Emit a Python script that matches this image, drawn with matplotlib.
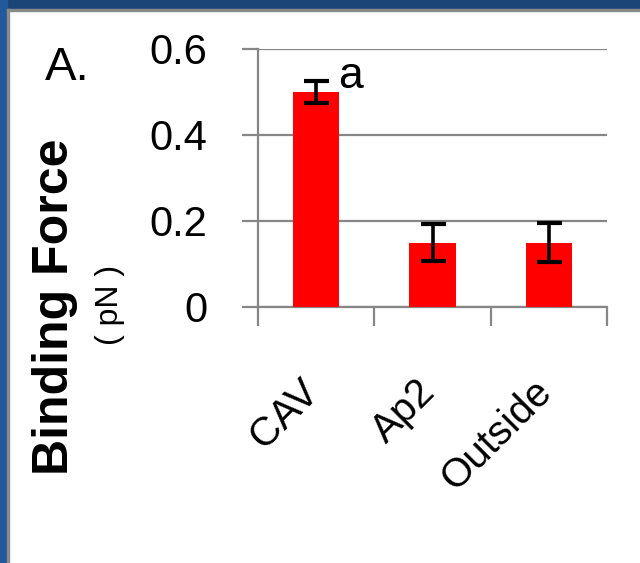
import matplotlib
matplotlib.use('Agg')
import matplotlib.pyplot as plt
import matplotlib.transforms as mtransforms
from matplotlib.patches import Rectangle

plt.rcParams['font.family'] = ['Liberation Sans', 'DejaVu Sans']

categories = ['CAV', 'Ap2', 'Outside']
binding_force = [0.50, 0.15, 0.15]
errors = [0.026, 0.043, 0.045]
y_ticks = [0, 0.2, 0.4, 0.6]
y_tick_labels = ['0', '0.2', '0.4', '0.6']

grid_gray = '#868686'

fig = plt.figure(figsize=(6.4, 5.63), dpi=100)
ax = fig.add_axes([258 / 640, 1 - 307 / 563, 349 / 640, 258 / 563])

x = range(len(categories))
ax.bar(x, binding_force, width=0.4, color='#ff0000', zorder=3)
ax.errorbar(x, binding_force, yerr=errors, fmt='none', ecolor='black',
            elinewidth=2.6, capsize=9, capthick=3, zorder=4)

ax.set_xlim(-0.5, len(categories) - 0.5)
ax.set_ylim(0, 0.6)
ax.set_yticks(y_ticks)
ax.set_yticklabels(y_tick_labels, fontsize=30)
ax.yaxis.grid(True, color=grid_gray, linewidth=1.6, zorder=0)
ax.set_axisbelow(True)

ax.set_xticks(list(x))
ax.set_xticklabels(categories, rotation=45, ha='right', va='top', fontsize=29)
ax.set_xticks([i - 0.5 for i in range(len(categories) + 1)], minor=True)
ax.tick_params(axis='x', which='major', length=0, pad=47)
ax.tick_params(axis='x', which='minor', length=14, width=1.6, color=grid_gray, direction='out')
ax.tick_params(axis='y', length=11.5, width=1.6, color=grid_gray, direction='out', pad=25)

offset = mtransforms.ScaledTranslation(10 / 100, 0, fig.dpi_scale_trans)
for lbl in ax.get_xticklabels():
    lbl.set_transform(lbl.get_transform() + offset)

for side in ['top', 'right']:
    ax.spines[side].set_visible(False)
for side in ['left', 'bottom']:
    ax.spines[side].set_color(grid_gray)
    ax.spines[side].set_linewidth(1.6)

ax.text(0.19, 0.51, 'a', fontsize=32, ha='left', va='baseline')

fig.text(55 / 640, 1 - 307 / 563, 'Binding Force', rotation=90, fontsize=36,
         fontweight='bold', ha='center', va='center')
fig.text(110 / 640, 1 - 305 / 563, '( pN )', rotation=90, fontsize=23,
         ha='center', va='center')
fig.text(67 / 640, 1 - 68 / 563, 'A.', fontsize=34, ha='center', va='center')

# frame round the slide
fig.patches.append(Rectangle((0, 1 - 9 / 563), 1, 9 / 563, transform=fig.transFigure,
                             color='#1b4577', zorder=10))
fig.patches.append(Rectangle((0, 0), 7 / 640, 1, transform=fig.transFigure,
                             color='#22599a', zorder=10))
fig.patches.append(Rectangle((7 / 640, 1 - 11 / 563), 1, 2 / 563, transform=fig.transFigure,
                             color='#8a8a8a', zorder=10))
fig.patches.append(Rectangle((7 / 640, 0), 2 / 640, 1 - 9 / 563, transform=fig.transFigure,
                             color='#8a8a8a', zorder=10))

fig.savefig('out.png', dpi=100)
